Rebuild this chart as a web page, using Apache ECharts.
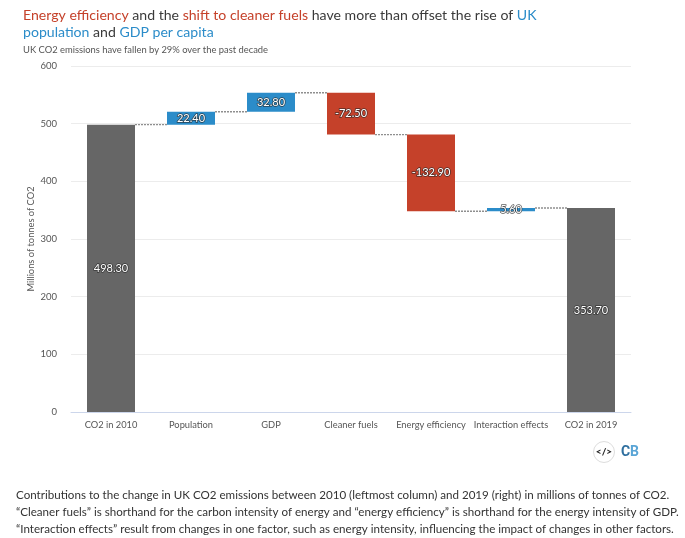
<!DOCTYPE html>
<html><head><meta charset="utf-8">
<style>html,body{margin:0;padding:0;background:#fff}#c{width:685px;height:538px}</style>
<script src="https://cdn.jsdelivr.net/npm/echarts@6/dist/echarts.min.js"></script>
</head><body><div id="c"></div>
<script>
const categories = ['CO2 in 2010','Population','GDP','Cleaner fuels','Energy efficiency','Interaction effects','CO2 in 2019'];
const values = [498.3, 22.4, 32.8, -72.5, -132.9, 5.6, 353.7];
const kinds = ['total','delta','delta','delta','delta','delta','total'];
const yTicks = {min:0,max:600,interval:100};
const font = 'Lato';
const colors = {up:'#2b8cc9',down:'#c5412a',total:'#666666',text:'#3a3a3a'};

let run = 0;
const base=[], up=[], down=[], total=[], levels=[];
values.forEach((v,i)=>{
  if(kinds[i]==='total'){ base.push(0); total.push(v); up.push(null); down.push(null); run=v; }
  else if(v>=0){ base.push(run); up.push(v); down.push(null); total.push(null); run+=v; }
  else { run+=v; base.push(run); down.push(-v); up.push(null); total.push(null); }
  levels.push(run);
});
const fmt = i => values[i].toFixed(2);
const lab = {show:true,position:'inside',color:'#fff',fontFamily:font,fontSize:11,
  textBorderColor:'rgba(40,40,40,0.75)',textBorderWidth:1.5,formatter:p=>fmt(p.dataIndex)};
const bar = (name,data,color)=>({name,type:'bar',stack:'w',data,barWidth:48,itemStyle:{color},label:lab,z:3});

const chart = echarts.init(document.getElementById('c'),null,{renderer:'canvas'});
chart.setOption({
  animation:false,
  backgroundColor:'#fff',
  title:[{
    left:18,top:2,
    text:'{r|Energy efficiency} and the {r|shift to cleaner fuels} have more than offset the rise of {b|UK}\n{b|population} and {b|GDP per capita}',
    textStyle:{fontFamily:font,fontSize:14.1,fontWeight:'normal',color:colors.text,lineHeight:17,
      rich:{r:{color:colors.down,fontFamily:font,fontSize:14.1,lineHeight:17},b:{color:colors.up,fontFamily:font,fontSize:14.1,lineHeight:17}}}
  },{
    left:18,top:40,text:'UK CO2 emissions have fallen by 29% over the past decade',
    textStyle:{fontFamily:font,fontSize:9.4,fontWeight:'normal',color:'#555'}
  },{
    left:11,top:482,
    text:'Contributions to the change in UK CO2 emissions between 2010 (leftmost column) and 2019 (right) in millions of tonnes of CO2.\n“Cleaner fuels” is shorthand for the carbon intensity of energy and “energy efficiency” is shorthand for the energy intensity of GDP.\n“Interaction effects” result from changes in one factor, such as energy intensity, influencing the impact of changes in other factors.',
    textStyle:{fontFamily:font,fontSize:11.6,fontWeight:'normal',color:'#333',lineHeight:17}
  }],
  grid:{left:71,right:54,top:66,height:346,containLabel:false},
  xAxis:{type:'category',data:categories,
    axisTick:{show:false},axisLine:{lineStyle:{color:'#ccd6eb',width:1}},
    axisLabel:{fontFamily:font,fontSize:9.3,color:'#555',margin:8,interval:0},splitLine:{show:false}},
  yAxis:{type:'value',min:yTicks.min,max:yTicks.max,interval:yTicks.interval,
    name:'Millions of tonnes of CO2',nameLocation:'middle',nameGap:40,nameRotate:90,nameMoveOverlap:false,
    nameTextStyle:{fontFamily:font,fontSize:9.3,color:'#555',verticalAlign:'middle'},
    axisLabel:{fontFamily:font,fontSize:9.5,color:'#555',margin:14},
    axisLine:{show:false},axisTick:{show:false},
    splitLine:{lineStyle:{color:'#ececec',width:1}}},
  series:[
    {name:'base',type:'bar',stack:'w',data:base,barWidth:48,itemStyle:{color:'transparent'},silent:true},
    bar('Total',total,colors.total),
    bar('Increase',up,colors.up),
    bar('Decrease',down,colors.down),
    {name:'connector',type:'custom',z:2,silent:true,
      data:levels.slice(0,-1).map((l,i)=>[i,l]),
      encode:{x:0,y:1},
      renderItem:(params,api)=>{
        const a=api.coord([api.value(0),api.value(1)]);
        const b=api.coord([api.value(0)+1,api.value(1)]);
        return {type:'line',shape:{x1:a[0]+24,y1:a[1],x2:b[0]-24,y2:b[1]},
          style:{stroke:'#8f8f8f',lineWidth:1.4,lineDash:[2,1]}};
      }}
  ],
  graphic:[
    {type:'circle',shape:{cx:604,cy:452,r:10.5},style:{fill:'#fff',stroke:'#ddd',lineWidth:1}},
    {type:'text',style:{x:604,y:452,text:'</>',align:'center',verticalAlign:'middle',font:'900 10px '+font,fill:'#222'}},
    {type:'text',style:{x:621,y:452,text:'C',verticalAlign:'middle',font:'bold 14px Roboto',fill:'#2f6f9f'}},
    {type:'text',style:{x:630,y:452,text:'B',verticalAlign:'middle',font:'bold 14px Roboto',fill:'#5aa5d6'}}
  ]
});
</script></body></html>
